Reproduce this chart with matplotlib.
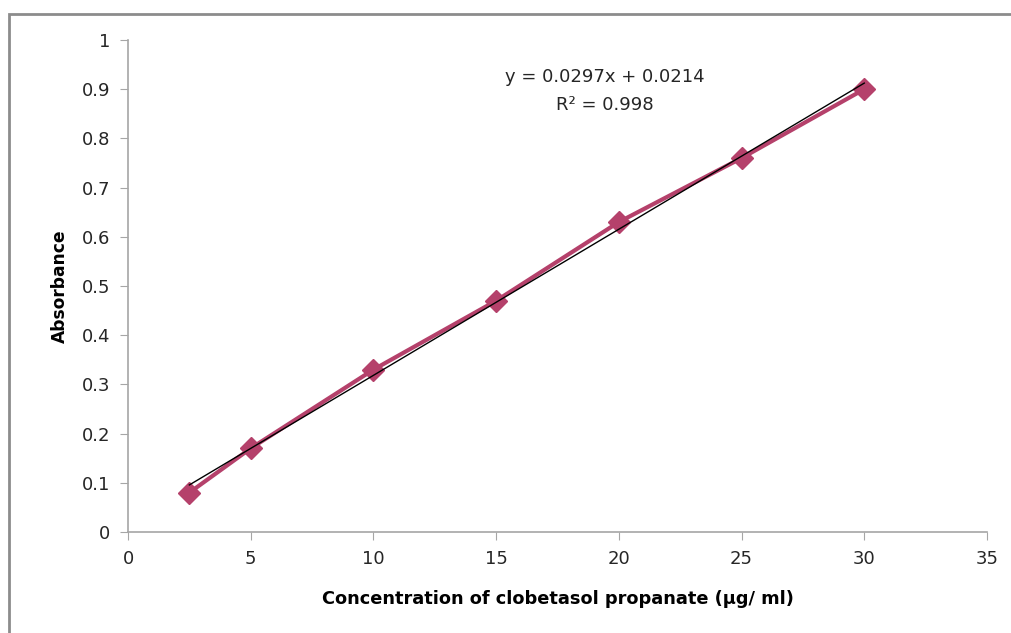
import matplotlib
matplotlib.use("Agg")
import matplotlib.pyplot as plt
from matplotlib.patches import Rectangle
import numpy as np

conc = [2.5, 5, 10, 15, 20, 25, 30]
absorb = [0.08, 0.17, 0.33, 0.47, 0.63, 0.76, 0.90]
slope = 0.0297
intercept = 0.0214
eq_text = "y = 0.0297x + 0.0214"
r2_text = "R² = 0.998"

plt.rcParams['font.family'] = ['DejaVu Sans']

fig = plt.figure(figsize=(10.11, 6.33), dpi=100)
fig.patches.append(Rectangle((9/1011, -0.1), 1.2, 1 - 14/633 + 0.1, transform=fig.transFigure,
                             fill=False, edgecolor='#8c8c8c', linewidth=2))
ax = fig.add_axes([128/1011, 1 - 532/633, (987-128)/1011, (532-40)/633])

xfit = np.array([conc[0], conc[-1]])
ax.plot(conc, absorb, color='#B5416B', linewidth=3, marker='D', markersize=11,
        markeredgecolor='#B5416B', zorder=2)
ax.plot(xfit, slope * xfit + intercept, color='black', linewidth=1, zorder=3)

ax.set_xlim(0, 35)
ax.set_ylim(0, 1)
ax.set_xticks(range(0, 36, 5))
ax.set_yticks(np.round(np.arange(0, 1.01, 0.1), 1))
ax.set_yticklabels(['0', '0.1', '0.2', '0.3', '0.4', '0.5', '0.6', '0.7', '0.8', '0.9', '1'])
for s in ['top', 'right']:
    ax.spines[s].set_visible(False)
for s in ['left', 'bottom']:
    ax.spines[s].set_color('#a6a6a6')
    ax.spines[s].set_linewidth(1.2)
ax.tick_params(direction='out', length=6, color='#a6a6a6', labelsize=13, labelcolor='#262626', pad=7)

ax.set_xlabel('Concentration of clobetasol propanate (µg/ ml)', fontsize=12.8, fontweight='bold', labelpad=16)
ax.set_ylabel('Absorbance', fontsize=12.3, fontweight='bold', labelpad=9)

ax.text(605/1011, 1 - 77/633, eq_text, transform=fig.transFigure, ha='center', va='center', fontsize=13, color='#262626')
ax.text(605/1011, 1 - 105/633, r2_text, transform=fig.transFigure, ha='center', va='center', fontsize=13, color='#262626')

fig.savefig('out.png', dpi=100)
